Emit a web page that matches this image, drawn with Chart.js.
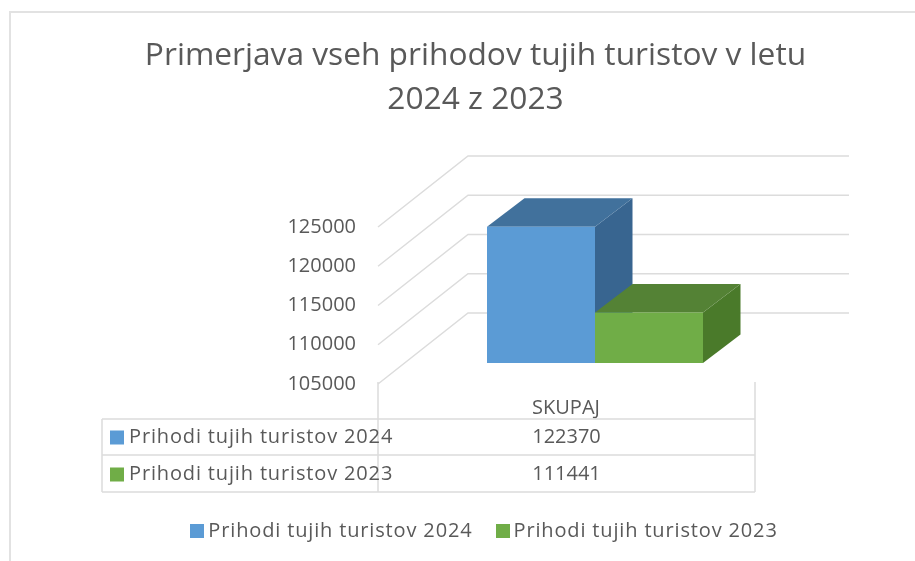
<!DOCTYPE html>
<html><head><meta charset="utf-8">
<script src="https://cdn.jsdelivr.net/npm/chart.js@4"></script>
<style>html,body{margin:0;padding:0;background:#fff;overflow:hidden}canvas{display:block}</style>
</head><body><canvas id="c" width="915" height="561"></canvas>
<script>
const titleLines = ['Primerjava vseh prihodov tujih turistov v letu', '2024 z 2023'];
const categories = ['SKUPAJ'];
const seriesNames = ['Prihodi tujih turistov 2024', 'Prihodi tujih turistov 2023'];
const values2024 = [122370];
const values2023 = [111441];
const yMin = 105000, yMax = 125000, yStep = 5000;

const FONT = '"Open Sans", "Noto Sans", sans-serif';
const TXT = '#595959', LINE = '#dcdcdc';
const front = ['#5B9BD5', '#70AD47'], topC = ['#41719C', '#548235'], sideC = ['#386590', '#4A7A2A'];
const FS = 20, TRACK = '0.85px';

function swatch(col) {
  const k = document.createElement('canvas'); k.width = 14; k.height = 14;
  const g = k.getContext('2d'); g.fillStyle = col; g.fillRect(0, 0, 14, 14); return k;
}

const threeD = {
  id: 'threeD',
  beforeLayout(chart) { chart.ctx.letterSpacing = TRACK; },
  afterLayout(chart) {
    const ctx = chart.ctx, lg = chart.legend;
    ctx.letterSpacing = '0px';
    chart.titleBlock.left += 84; chart.titleBlock.right += 84;
    const h = lg.bottom - lg.top;
    lg.left += 95.5; lg.right += 95.5; lg.top = 492; lg.bottom = 492 + h;
    if (!lg._tracked) {
      lg._tracked = true;
      const d = lg.draw;
      lg.draw = function (a) { ctx.save(); ctx.letterSpacing = TRACK; d.call(lg, a); ctx.restore(); };
    }
  },
  beforeDraw(chart) {
    const c = chart.ctx;
    c.save(); c.strokeStyle = '#e2e2e2'; c.lineWidth = 2;
    c.beginPath(); c.moveTo(10, 561); c.lineTo(10, 12); c.lineTo(915, 12); c.stroke(); c.restore();
  },
  beforeDatasetsDraw(chart) {
    const c = chart.ctx, y = chart.scales.y;
    c.save(); c.strokeStyle = LINE; c.lineWidth = 1.5;
    y.ticks.forEach(t => {
      const p = y.getPixelForValue(t.value);
      c.beginPath(); c.moveTo(378, p + 21); c.lineTo(468, p - 50); c.lineTo(849, p - 50); c.stroke();
    });
    const dx = 37.5, dy = -28.5;
    chart.data.datasets.forEach((ds, i) => {
      chart.getDatasetMeta(i).data.forEach(b => {
        const l = b.x - b.width / 2, r = b.x + b.width / 2, t = b.y, u = b.base;
        c.fillStyle = sideC[i];
        c.beginPath(); c.moveTo(r, t); c.lineTo(r + dx, t + dy); c.lineTo(r + dx, u + dy); c.lineTo(r, u); c.closePath(); c.fill();
        c.fillStyle = topC[i];
        c.beginPath(); c.moveTo(l, t); c.lineTo(l + dx, t + dy); c.lineTo(r + dx, t + dy); c.lineTo(r, t); c.closePath(); c.fill();
      });
    });
    c.restore();
  },
  afterDraw(chart) {
    const c = chart.ctx;
    c.save(); c.strokeStyle = LINE; c.lineWidth = 1.5;
    c.beginPath();
    [419, 455, 492].forEach(v => { c.moveTo(102, v); c.lineTo(755, v); });
    c.moveTo(102, 419); c.lineTo(102, 492);
    c.moveTo(378, 382); c.lineTo(378, 492);
    c.moveTo(755, 382); c.lineTo(755, 492);
    c.stroke();
    c.font = FS + 'px ' + FONT; c.textBaseline = 'middle';
    chart.data.datasets.forEach((ds, i) => {
      const cy = 437.5 + i * 37;
      c.fillStyle = front[i]; c.fillRect(110, cy - 7, 14, 14);
      c.fillStyle = TXT; c.textAlign = 'left'; c.letterSpacing = TRACK; c.fillText(ds.label, 129, cy);
      c.letterSpacing = '0px'; c.textAlign = 'center'; c.fillText(String(ds.data[0]), 566.5, cy);
    });
    c.restore();
  }
};

new Chart(document.getElementById('c'), {
  type: 'bar',
  plugins: [threeD],
  data: {
    labels: categories,
    datasets: [
      { label: seriesNames[0], data: values2024, backgroundColor: front[0], borderWidth: 0, base: yMin },
      { label: seriesNames[1], data: values2023, backgroundColor: front[1], borderWidth: 0, base: yMin }
    ]
  },
  options: {
    responsive: false, animation: false,
    layout: { padding: { right: 132 } },
    datasets: { bar: { categoryPercentage: 216 / 376, barPercentage: 1 } },
    scales: {
      x: {
        grid: { display: false }, border: { display: false },
        ticks: { color: TXT, font: { size: FS, family: FONT }, labelOffset: -29, padding: 25, maxRotation: 0, autoSkip: false },
        afterFit(s) { s.height = 139; }
      },
      y: {
        min: yMin, max: yMax,
        grid: { display: false, drawTicks: false }, border: { display: false },
        ticks: { stepSize: yStep, color: TXT, font: { size: FS, family: FONT }, labelOffset: 21, padding: 51, callback: v => String(v) },
        afterFit(s) { s.width = 407; }
      }
    },
    plugins: {
      title: {
        display: true, text: titleLines, color: TXT,
        font: { size: 31.7, family: FONT, weight: 'normal', lineHeight: 44 / 31.7 },
        padding: { top: 34, bottom: 84 }
      },
      legend: {
        position: 'bottom',
        labels: {
          color: TXT, font: { size: FS, family: FONT }, padding: 29,
          usePointStyle: true, pointStyleWidth: 2, boxHeight: 14,
          generateLabels: ch => ch.data.datasets.map((d, i) => ({
            text: d.label, fontColor: TXT, pointStyle: swatch(front[i]), datasetIndex: i, hidden: false, lineWidth: 0
          }))
        }
      },
      tooltip: { enabled: false }
    }
  }
});
</script></body></html>
